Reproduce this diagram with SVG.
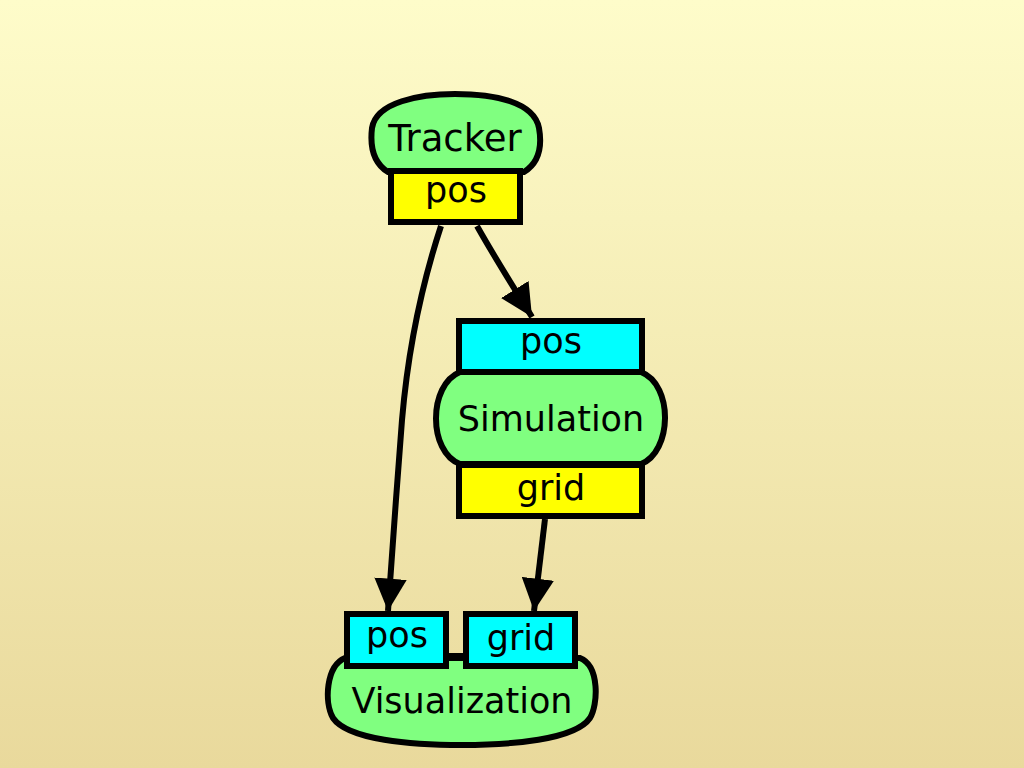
<svg xmlns="http://www.w3.org/2000/svg" width="1024" height="768" viewBox="0 0 1024 768">
<defs>
<linearGradient id="bg" x1="0" y1="0" x2="0" y2="1">
<stop offset="0" stop-color="#FEFCCA"/>
<stop offset="1" stop-color="#E9D99C"/>
</linearGradient>
<marker id="arr" markerWidth="5.4" markerHeight="5.4" refX="6" refY="3" orient="auto" markerUnits="strokeWidth" viewBox="0 0 6 6">
<path d="M0,0 L6,3 L0,6 Z" fill="#000"/>
</marker>
<style>
.node{fill:#80FF80;stroke:#000;stroke-width:6}
.out{fill:#FFFF00;stroke:#000;stroke-width:6}
.in{fill:#00FFFF;stroke:#000;stroke-width:6}
.edge{fill:none;stroke:#000;stroke-width:6}
text{font-family:"DejaVu Sans","Liberation Sans",sans-serif;font-size:35px;fill:#000;text-anchor:middle}
</style>
</defs>
<rect width="1024" height="768" fill="url(#bg)"/>
<g id="edges">
<path class="edge" d="M441,226 C420,290 408,350 402,420 C397,480 392,560 388,611" marker-end="url(#arr)"/>
<path class="edge" d="M477,226 C495,258 512,285 532,317" marker-end="url(#arr)"/>
<path class="edge" d="M545,519 L534,611" marker-end="url(#arr)"/>
</g>
<g id="tracker">
<path class="node" d="M388,172 C372,162 370,145 372,128 C376,102 420,94 455,94 C495,94 534,102 539,128 C542,145 540,162 524,172 Z"/>
<text x="455" y="151" style="font-size:37px">Tracker</text>
<rect class="out" x="391" y="171" width="129" height="51"/>
<text x="456" y="202">pos</text>
</g>
<g id="simulation">
<path class="node" d="M460,372 L641,372 C674,385 672,452 641,464 L460,464 C428,452 428,385 460,372 Z"/>
<text x="551" y="431">Simulation</text>
<rect class="in" x="459" y="321" width="183" height="51"/>
<text x="551" y="353">pos</text>
<rect class="out" x="459" y="465" width="183" height="51"/>
<text x="551" y="500">grid</text>
</g>
<g id="visualization">
<line x1="446" y1="656" x2="466" y2="656" stroke="#000" stroke-width="6"/>
<path class="node" d="M345,658 L580,658 C600,666 598,705 590,718 C575,740 510,745 462,745 C412,745 348,740 333,718 C324,702 326,666 345,658 Z"/>
<text x="462" y="713">Visualization</text>
<rect class="in" x="347" y="614" width="99" height="52"/>
<text x="397" y="647">pos</text>
<rect class="in" x="466" y="614" width="109" height="52"/>
<text x="521" y="650">grid</text>
</g>
</svg>
